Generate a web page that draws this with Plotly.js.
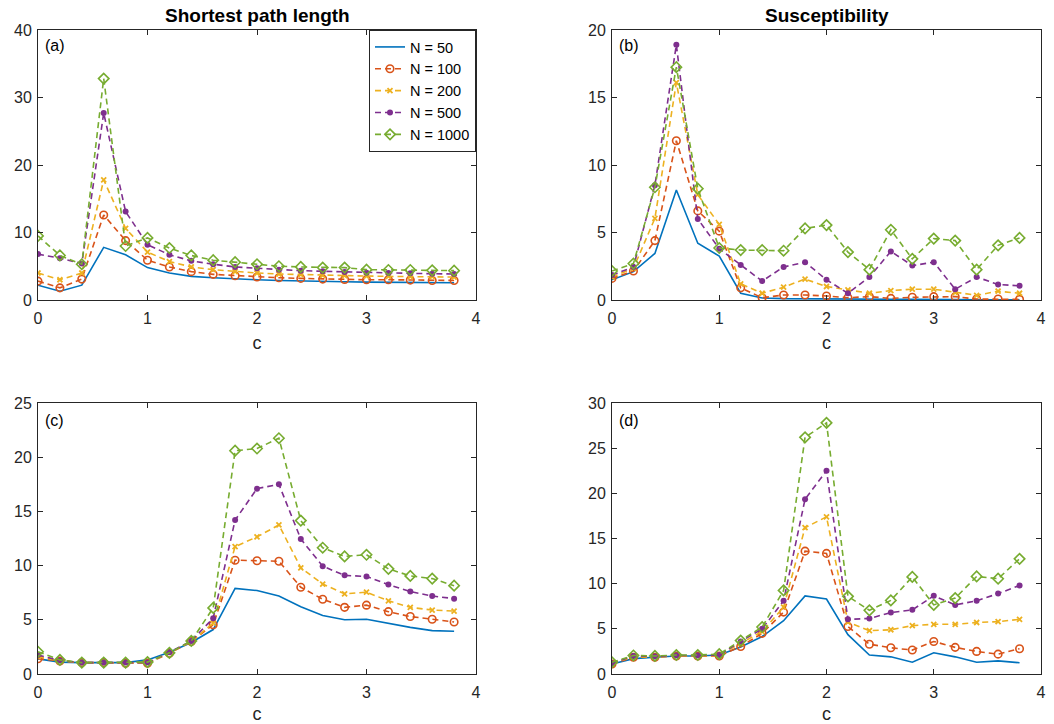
<!DOCTYPE html>
<html>
<head>
<meta charset="utf-8">
<script src="https://cdn.plot.ly/plotly-3.0.1.min.js"></script>
<style>html,body{margin:0;padding:0;background:#fff;}#chart{width:1054px;height:724px;}</style>
</head>
<body>
<div id="chart"></div>
<script>
const c = [0,0.2,0.4,0.6,0.8,1.0,1.2,1.4,1.6,1.8,2.0,2.2,2.4,2.6,2.8,3.0,3.2,3.4,3.6,3.8];
const seriesNames = ['N = 50','N = 100','N = 200','N = 500','N = 1000'];

// (a) Shortest path length
const a_N50   = [2.2,1.3,2.2,7.8,6.7,4.8,4.0,3.5,3.3,3.1,3.0,2.9,2.8,2.7,2.7,2.65,2.6,2.6,2.55,2.55];
const a_N100  = [2.8,1.8,3.1,12.6,8.8,5.9,4.9,4.2,3.8,3.6,3.4,3.3,3.2,3.1,3.05,3.0,3.0,2.95,2.9,2.9];
const a_N200  = [4.0,3.0,4.0,17.8,10.6,7.1,5.7,4.9,4.5,4.2,4.0,3.85,3.75,3.65,3.6,3.55,3.5,3.45,3.45,3.4];
const a_N500  = [6.8,6.2,5.4,27.7,13.1,8.2,6.7,5.8,5.3,4.9,4.7,4.5,4.35,4.25,4.15,4.05,4.0,3.95,3.9,3.85];
const a_N1000 = [9.5,6.6,5.3,32.8,8.0,9.2,7.7,6.6,5.9,5.6,5.3,5.0,4.9,4.8,4.8,4.5,4.45,4.45,4.4,4.35];

// (b) Susceptibility
const b_N50   = [1.5,2.1,3.45,8.15,4.2,3.25,0.5,0.15,0.1,0.08,0.1,0.08,0.07,0.05,0.06,0.07,0.04,0.02,0.02,0.02];
const b_N100  = [1.6,2.15,4.4,11.8,6.6,5.1,0.9,0.17,0.37,0.37,0.3,0.17,0.25,0.12,0.2,0.25,0.25,0.07,0.07,0.05];
const b_N200  = [1.7,2.35,6.05,16.1,7.8,5.6,1.2,0.5,0.95,1.55,1.0,0.75,0.5,0.7,0.8,0.8,0.55,0.35,0.65,0.5];
const b_N500  = [1.85,2.45,8.5,18.9,6.0,3.8,2.6,1.4,2.45,2.8,1.5,0.5,1.7,3.6,2.55,2.8,0.8,1.7,1.15,1.05];
const b_N1000 = [2.15,2.7,8.35,17.25,8.25,3.85,3.7,3.7,3.65,5.3,5.55,3.55,2.25,5.2,3.05,4.55,4.4,2.25,4.05,4.6];

// (c)
const c_N50   = [1.4,1.1,1.05,1.05,1.05,1.3,2.0,2.9,4.1,7.9,7.7,7.2,6.2,5.4,5.0,5.05,4.65,4.3,4.0,3.95];
const c_N100  = [1.4,1.2,1.05,1.05,1.0,1.0,1.9,3.0,4.55,10.5,10.45,10.4,8.0,6.9,6.15,6.35,5.75,5.3,5.05,4.8];
const c_N200  = [1.6,1.2,1.05,1.05,1.0,1.0,1.95,3.0,4.7,11.75,12.65,13.75,9.8,8.3,7.4,7.55,6.75,6.15,5.9,5.8];
const c_N500  = [1.75,1.25,1.05,1.05,1.05,1.05,2.0,3.05,5.15,14.2,17.1,17.5,12.45,9.95,9.1,9.0,8.25,7.6,7.2,6.95];
const c_N1000 = [2.05,1.3,1.05,1.05,1.05,1.1,1.95,3.05,6.1,20.6,20.8,21.75,14.15,11.65,10.85,11.0,9.7,9.05,8.8,8.15];

// (d)
const d_N50   = [1.1,1.7,1.85,2.0,2.0,2.1,3.0,4.15,5.9,8.65,8.3,4.35,2.1,1.9,1.3,2.35,1.9,1.3,1.45,1.25];
const d_N100  = [1.1,1.85,1.85,2.0,2.0,2.0,3.05,4.5,6.85,13.6,13.35,5.25,3.3,2.9,2.65,3.6,2.95,2.5,2.2,2.8];
const d_N200  = [1.2,1.9,1.9,2.0,2.0,2.05,3.4,4.7,7.4,16.2,17.4,5.75,4.8,4.9,5.35,5.5,5.5,5.7,5.8,6.05];
const d_N500  = [1.2,2.0,1.95,2.05,2.05,2.1,3.6,5.0,8.1,19.35,22.5,6.05,6.15,6.8,7.1,8.65,7.65,8.1,8.9,9.8];
const d_N1000 = [1.3,2.05,2.0,2.1,2.1,2.2,3.7,5.2,9.25,26.2,27.8,8.6,7.05,8.15,10.75,7.65,8.4,10.8,10.55,12.75];

const colors = ['#0072BD','#D95319','#EDB120','#7E2F8E','#77AC30'];
const dashPat = '6px,4px';
const styles = [
  {line:{color:colors[0],width:1.6}, mode:'lines'},
  {line:{color:colors[1],width:1.6,dash:dashPat}, mode:'lines+markers', marker:{symbol:'circle-open',size:7.5,color:colors[1],line:{width:1.6,color:colors[1]}}},
  {line:{color:colors[2],width:1.6,dash:dashPat}, mode:'lines+markers', marker:{symbol:'x-thin-open',size:5,color:colors[2],line:{width:1.8,color:colors[2]}}},
  {line:{color:colors[3],width:1.6,dash:dashPat}, mode:'lines+markers', marker:{symbol:'circle',size:6,color:colors[3],line:{width:0}}},
  {line:{color:colors[4],width:1.6,dash:dashPat}, mode:'lines+markers', marker:{symbol:'diamond-open',size:8,color:colors[4],line:{width:1.6,color:colors[4]}}}
];

const panels = [
  {data:[a_N50,a_N100,a_N200,a_N500,a_N1000], xa:'x', ya:'y'},
  {data:[b_N50,b_N100,b_N200,b_N500,b_N1000], xa:'x2', ya:'y2'},
  {data:[c_N50,c_N100,c_N200,c_N500,c_N1000], xa:'x3', ya:'y3'},
  {data:[d_N50,d_N100,d_N200,d_N500,d_N1000], xa:'x4', ya:'y4'}
];

const traces = [];
panels.forEach((p,pi)=>{
  p.data.forEach((ys,si)=>{
    const st = styles[si];
    const t = {x:c, y:ys, type:'scatter', mode:st.mode, line:st.line, name:seriesNames[si],
      xaxis:p.xa, yaxis:p.ya, showlegend: pi===0, legendgroup:'g'+si};
    if (st.marker) t.marker = st.marker;
    traces.push(t);
  });
});

const fontFam = 'Liberation Sans, Arial, sans-serif';
const W = 1054, H = 724;
const xdL = [38/W, 476/W], xdR = [612/W, 1041/W];
const ydT = [1-300/H, 1-30/H], ydB = [1-674/H, 1-403/H];

function xax(dom, anchor){
  return {domain:dom, anchor:anchor, range:[0,4], dtick:1, tick0:0, ticks:'inside', ticklen:5,
    tickcolor:'#262626', showline:true, linecolor:'#262626', linewidth:1, mirror:'ticks',
    showgrid:false, zeroline:false, tickfont:{family:fontFam,size:16,color:'#262626'}, ticklabelstandoff:4,
    title:{text:'c', font:{family:fontFam,size:18,color:'#262626'}, standoff:10}};
}
function yax(dom, anchor, max){
  return {domain:dom, anchor:anchor, range:[0,max], dtick:max===40?10:5, tick0:0, ticks:'inside', ticklen:5,
    tickcolor:'#262626', showline:true, linecolor:'#262626', linewidth:1, mirror:'ticks',
    showgrid:false, zeroline:false, tickfont:{family:fontFam,size:16,color:'#262626'}, ticklabelstandoff:2};
}

const layout = {
  width:W, height:H, margin:{l:0,r:0,t:0,b:0}, paper_bgcolor:'#fff', plot_bgcolor:'#fff',
  showlegend:true,
  font:{family:fontFam, color:'#262626'},
  xaxis:xax(xdL,'y'), yaxis:yax(ydT,'x',40),
  xaxis2:xax(xdR,'y2'), yaxis2:yax(ydT,'x2',20),
  xaxis3:xax(xdL,'y3'), yaxis3:yax(ydB,'x3',25),
  xaxis4:xax(xdR,'y4'), yaxis4:yax(ydB,'x4',30),
  legend:{x:476/W, xanchor:'right', y:1-30/H, yanchor:'top', bgcolor:'#fff', bordercolor:'#262626', borderwidth:1,
    font:{family:fontFam,size:14.5,color:'#000'}, tracegroupgap:0, itemwidth:30},
  annotations:[
    {text:'<b>Shortest path length</b>', xref:'paper', yref:'paper', x:(38+476)/2/W, y:1-16/H, xanchor:'center', yanchor:'middle', showarrow:false, font:{family:fontFam,size:19,color:'#000'}},
    {text:'<b>Susceptibility</b>', xref:'paper', yref:'paper', x:(612+1041)/2/W, y:1-16/H, xanchor:'center', yanchor:'middle', showarrow:false, font:{family:fontFam,size:19,color:'#000'}},
    {text:'(a)', xref:'x domain', yref:'y domain', x:0.012, y:0.944, xanchor:'left', yanchor:'middle', showarrow:false, font:{family:fontFam,size:16,color:'#000'}},
    {text:'(b)', xref:'x2 domain', yref:'y2 domain', x:0.012, y:0.944, xanchor:'left', yanchor:'middle', showarrow:false, font:{family:fontFam,size:16,color:'#000'}},
    {text:'(c)', xref:'x3 domain', yref:'y3 domain', x:0.012, y:0.935, xanchor:'left', yanchor:'middle', showarrow:false, font:{family:fontFam,size:16,color:'#000'}},
    {text:'(d)', xref:'x4 domain', yref:'y4 domain', x:0.012, y:0.935, xanchor:'left', yanchor:'middle', showarrow:false, font:{family:fontFam,size:16,color:'#000'}}
  ]
};

Plotly.newPlot('chart', traces, layout, {displayModeBar:false, staticPlot:true});
</script>
</body>
</html>
